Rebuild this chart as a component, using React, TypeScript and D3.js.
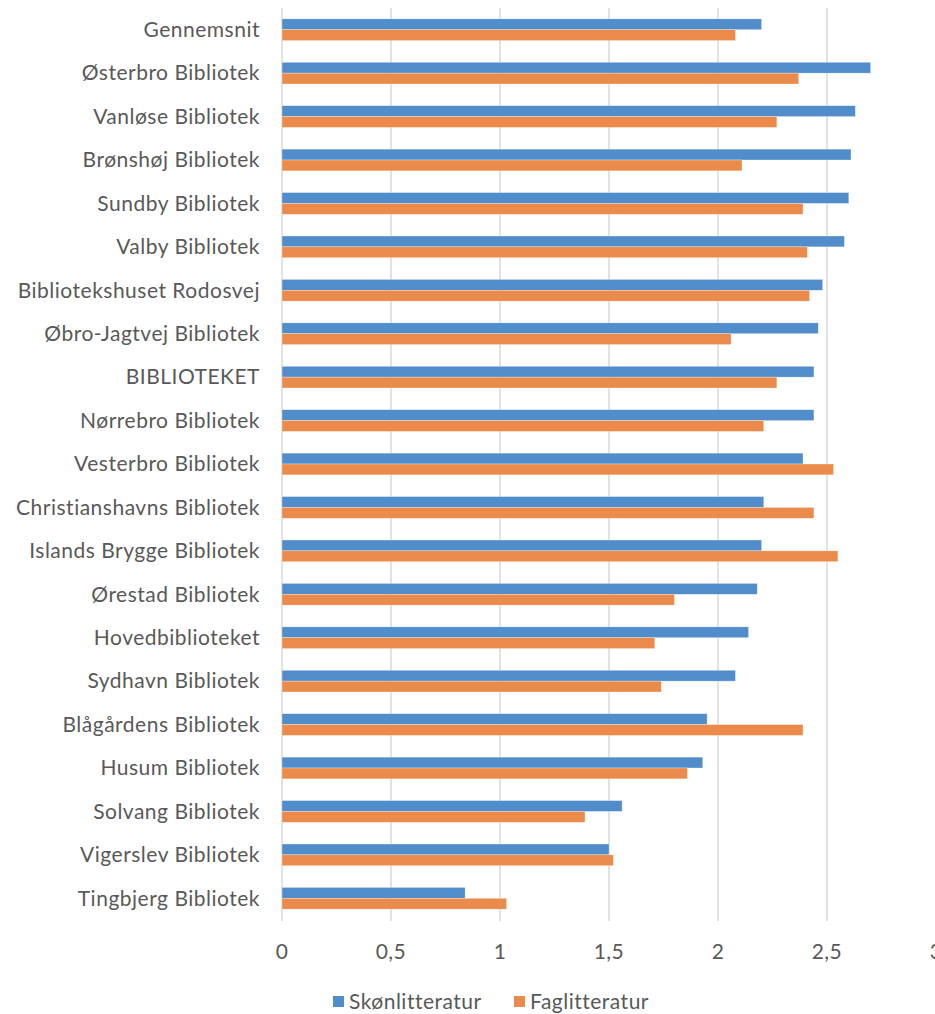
import React from "react";
import * as d3 from "d3";

const categories = [
  "Gennemsnit",
  "Østerbro Bibliotek",
  "Vanløse Bibliotek",
  "Brønshøj Bibliotek",
  "Sundby Bibliotek",
  "Valby Bibliotek",
  "Bibliotekshuset Rodosvej",
  "Øbro-Jagtvej Bibliotek",
  "BIBLIOTEKET",
  "Nørrebro Bibliotek",
  "Vesterbro Bibliotek",
  "Christianshavns Bibliotek",
  "Islands Brygge Bibliotek",
  "Ørestad Bibliotek",
  "Hovedbiblioteket",
  "Sydhavn Bibliotek",
  "Blågårdens Bibliotek",
  "Husum Bibliotek",
  "Solvang Bibliotek",
  "Vigerslev Bibliotek",
  "Tingbjerg Bibliotek",
];

const skoenlitteratur = [
  2.2, 2.7, 2.63, 2.61, 2.6, 2.58, 2.48, 2.46, 2.44, 2.44, 2.39, 2.21, 2.2, 2.18,
  2.14, 2.08, 1.95, 1.93, 1.56, 1.5, 0.84,
];

const faglitteratur = [
  2.08, 2.37, 2.27, 2.11, 2.39, 2.41, 2.42, 2.06, 2.27, 2.21, 2.53, 2.44, 2.55,
  1.8, 1.71, 1.74, 2.39, 1.86, 1.39, 1.52, 1.03,
];

const xTicks = [0, 0.5, 1, 1.5, 2, 2.5, 3];
const seriesNames = ["Skønlitteratur", "Faglitteratur"];
const seriesColors = ["#518DCA", "#EA8B4B"];

const W = 935;
const H = 1014;
const FONT = "Lato, 'Open Sans', sans-serif";
const TEXT = "#595959";

export default function App() {
  const x = d3.scaleLinear().domain([0, 3]).range([282, 936]);
  const y = d3.scaleBand<string>().domain(categories).range([8, 920]).paddingInner(0.5).paddingOuter(0.25);
  const bh = y.bandwidth() / 2;
  const fmt = (v: number) => String(v).replace(".", ",");
  const series = [skoenlitteratur, faglitteratur];

  return (
    <svg
      width={W}
      height={H}
      style={{ position: "absolute", left: 0, top: 0, background: "#fff" }}
      fontFamily={FONT}
    >
      {xTicks.map((t) => (
        <line
          key={"g" + t}
          x1={x(t)}
          x2={x(t)}
          y1={8}
          y2={921}
          stroke="#D9D9D9"
          strokeWidth={1.5}
        />
      ))}
      {categories.map((c, i) => (
        <g key={c}>
          {series.map((s, j) => (
            <rect
              key={j}
              x={x(0)}
              y={(y(c) as number) + j * bh}
              width={x(s[i]) - x(0)}
              height={bh}
              fill={seriesColors[j]}
              stroke="#ffffff"
              strokeOpacity={0.5}
              strokeWidth={0.6}
            />
          ))}
          <text
            x={260}
            y={(y(c) as number) + bh}
            dy="0.35em"
            textAnchor="end"
            fontSize={21}
            letterSpacing={0.5}
            fill={TEXT}
          >
            {c}
          </text>
        </g>
      ))}
      {xTicks.map((t) => (
        <text
          key={"t" + t}
          x={x(t)}
          y={952}
          dy="0.35em"
          textAnchor="middle"
          fontSize={21}
          letterSpacing={0.5}
          fill={TEXT}
        >
          {fmt(t)}
        </text>
      ))}
      {seriesNames.map((n, j) => {
        const lx = j === 0 ? 333 : 514;
        return (
          <g key={n}>
            <rect x={lx} y={996} width={11} height={11} fill={seriesColors[j]} />
            <text x={lx + 16} y={1002} dy="0.35em" fontSize={21} letterSpacing={0.5} fill={TEXT}>
              {n}
            </text>
          </g>
        );
      })}
    </svg>
  );
}
